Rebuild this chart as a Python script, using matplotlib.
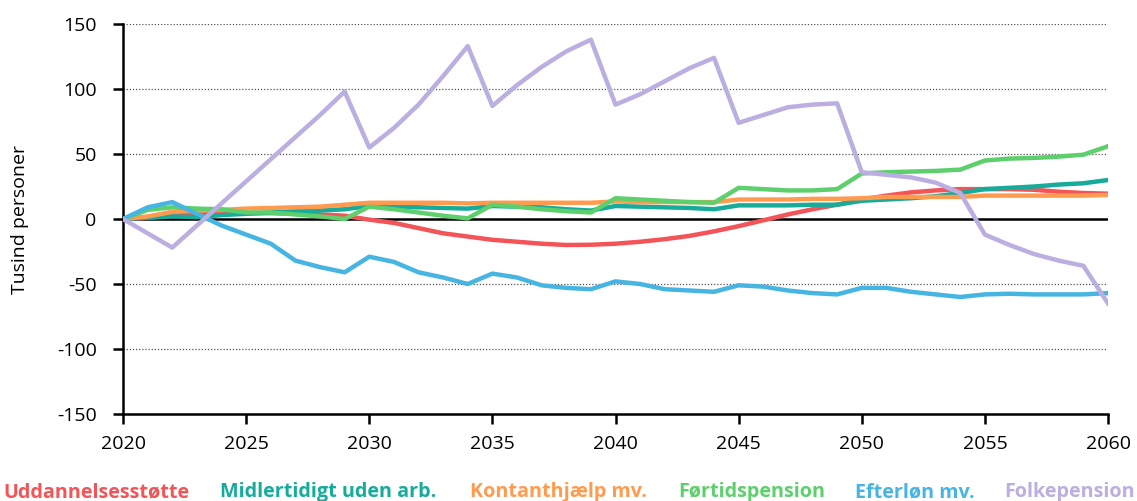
import matplotlib.pyplot as plt

plt.rcParams['font.family'] = ['Open Sans', 'DejaVu Sans']
plt.rcParams['axes.unicode_minus'] = False

years = list(range(2020, 2061))

# Tusind personer, ændring ift. 2020
uddannelse = [0, 1, 2.5, 4, 5, 4.5, 4.5, 4, 3.5, 2.5, -0.5, -3, -7, -11, -13.5, -16,
              -17.5, -19, -20, -19.8, -19, -17.5, -15.5, -13, -9.5, -5.5, -1, 3.5, 7.5, 11, 15,
              18, 20.5, 22, 23, 23, 23, 22.5, 21, 20, 19.5]
midlertidig = [0, 1, 2, 1.5, 3, 4, 5, 6, 6.5, 7.5, 10, 9.5, 9, 8.5, 8, 10,
               9.5, 9, 7.5, 6.5, 10, 9.5, 9, 8.5, 7.5, 10.5, 10.5, 10.5, 11, 11, 14,
               15, 16, 17.5, 20, 23, 24, 25, 26.5, 27.5, 30]
kontanthjaelp = [0, 2, 5.5, 6.5, 7, 8, 8.5, 9, 9.5, 11, 12.5, 12.5, 12.5, 12.5, 12, 12.5,
                 12.5, 12.5, 12.5, 12.5, 13.5, 13, 13, 13, 13, 15, 15, 15, 15.5, 15.5, 16,
                 17, 17, 17, 17, 18, 18, 18, 18, 18, 18.5]
foertid = [0, 7, 9, 8, 7.5, 5, 5, 3.5, 2, 0, 9.5, 7.5, 5, 2.5, 0.5, 11,
           9.5, 7.5, 6, 5, 16, 15, 14, 13, 12.5, 24, 23, 22, 22, 23, 35,
           36, 36.5, 37, 38, 45, 46.5, 47, 48, 49.5, 56]
efterloen = [0, 9, 13, 4, -5, -12, -19, -32, -37, -41, -29, -33, -41, -45, -50, -42,
             -45, -51, -53, -54, -48, -50, -54, -55, -56, -51, -52, -55, -57, -58, -53,
             -53, -56, -58, -60, -58, -57.5, -58, -58, -58, -57]
folkepension = [0, -11, -22, -5, 12, 29, 46, 63, 80, 98, 55, 70, 88, 110, 133, 87,
                103, 117, 129, 138, 88, 96, 106, 116, 124, 74, 80, 86, 88, 89, 36,
                34, 32, 28, 20, -12, -20, -27, -32, -36, -65]

labels = ['Uddannelsesstøtte', 'Midlertidigt uden arb.', 'Kontanthjælp mv.',
          'Førtidspension', 'Efterløn mv.', 'Folkepension']
series = [uddannelse, midlertidig, kontanthjaelp, foertid, efterloen, folkepension]
colors = ['#f25457', '#17ab9c', '#ff9b4e', '#5dcf6c', '#46b5e1', '#bbaee0']

fig = plt.figure(figsize=(11.37, 5.01), dpi=100)
ax = fig.add_axes([0.1082, 0.1737, 0.8663, 0.7783])

for yv in [-100, -50, 50, 100, 150]:
    ax.axhline(yv, color='#555555', lw=0.9, ls=(0, (1, 1.5)), zorder=1)
ax.axhline(0, color='black', lw=1.8, zorder=2)

for s, c, lab in zip(series, colors, labels):
    ax.plot(years, s, color=c, lw=3.2, label=lab, zorder=3, solid_joinstyle='round')

ax.set_xlim(2020, 2060)
ax.set_ylim(-150, 150)
ax.set_xticks(range(2020, 2061, 5))
ax.set_yticks(range(-150, 151, 50))
ax.spines['top'].set_visible(False)
ax.spines['right'].set_visible(False)
ax.spines['left'].set_linewidth(1.8)
ax.spines['bottom'].set_linewidth(1.8)
ax.tick_params(axis='both', labelsize=14, width=1.8, length=7, direction='out')
ax.tick_params(axis='x', pad=8)
ax.tick_params(axis='y', pad=12)
ax.set_ylabel('Tusind personer', fontsize=14, labelpad=20)

# forklaring som farvet tekst under figuren
legend_x = [3, 220, 470, 678, 855, 1004]
for lab, c, xp in zip(labels, colors, legend_x):
    fig.text(xp / 1137, 3.5 / 501, lab, color=c, fontsize=14.2, fontweight='bold',
             ha='left', va='baseline')

fig.savefig('out.png', dpi=100)
